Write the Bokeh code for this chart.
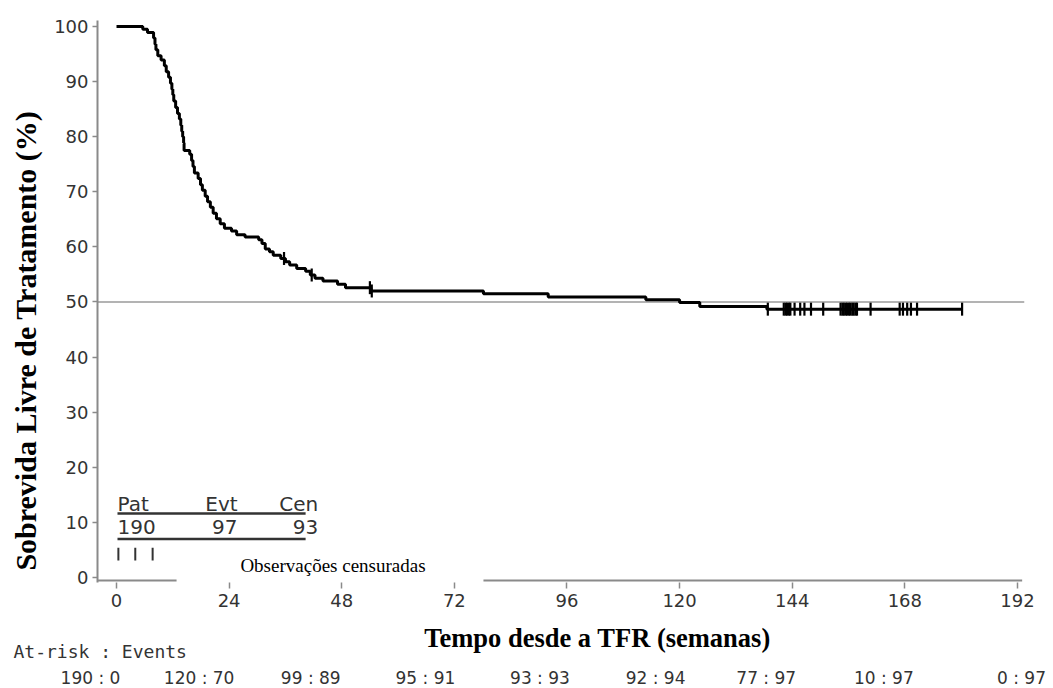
import numpy as np
from bokeh.plotting import figure
from bokeh.models import Range1d, Span, FixedTicker, ColumnDataSource
from bokeh.layouts import column, row
from bokeh.embed import file_html
from bokeh.resources import INLINE
from bokeh.core.properties import value

# ---------------- data ----------------
km_weeks = [0, 5.6, 6.6, 7.9, 8.2, 8.4, 8.8, 9.5, 10.2, 10.6,
            11.1, 11.5, 11.8, 12.0, 12.2, 12.6, 13.0, 13.4, 13.7, 13.9,
            14.1, 14.3, 14.4, 15.6, 16.0, 16.3, 16.6, 17.4, 17.9, 18.3,
            18.9, 19.4, 20.0, 20.6, 21.3, 22.1, 23.0, 24.5, 25.6, 27.4,
            30.3, 31.0, 31.7, 32.6, 33.4, 35.0, 36.0, 36.9, 38.4, 40.3,
            41.3, 42.3, 44.0, 47.1, 48.8, 54.2, 78.2, 92.0, 112.8, 120.0,
            124.3, 138.6]
km_surv = [100, 99.5, 98.9, 97.9, 96.8, 95.8, 94.7, 93.9, 92.9, 91.8,
           90.8, 89.7, 88.6, 87.6, 86.5, 85.3, 84.2, 83.2, 82.1, 81.0,
           80.0, 78.9, 77.5, 76.8, 75.7, 74.6, 73.4, 72.4, 71.3, 70.3,
           69.2, 68.2, 67.2, 66.1, 65.1, 64.2, 63.4, 62.9, 62.2, 61.8,
           61.3, 60.6, 59.6, 59.1, 58.5, 57.9, 57.3, 56.7, 56.1, 55.6,
           54.9, 54.3, 53.8, 53.2, 52.6, 52.0, 51.5, 50.9, 50.4, 49.9,
           49.2, 48.7]
censor_weeks = [35.7, 41.6, 54.0, 54.4,
                138.8, 142.2, 142.6, 142.9, 143.3, 143.6, 144.5, 145.7, 146.6,
                148.0, 150.6, 154.3, 154.7, 155.0, 155.4, 155.7, 156.1, 156.4,
                156.8, 157.1, 157.5, 157.8, 160.7, 166.9, 167.6, 168.5, 169.3,
                170.6, 180.2]
x_ticks = [0, 24, 48, 72, 96, 120, 144, 168, 192]
y_ticks = [0, 10, 20, 30, 40, 50, 60, 70, 80, 90, 100]
at_risk = [190, 120, 99, 95, 93, 92, 77, 10, 0]
events = [0, 70, 89, 91, 93, 94, 97, 97, 97]
summary_header = ["Pat", "Evt", "Cen"]
summary_values = [190, 97, 93]
reference_level = 50

y_title = "Sobrevida Livre de Tratamento (%)"
x_title = "Tempo desde a TFR (semanas)"
risk_title = "At-risk : Events"
censor_label = "Observações censuradas"

# ---------------- layout constants ----------------
X0, X1 = -4.05, 193.5
Y0, Y1 = -0.91, 101.09
LEFT_W = 50
MAIN_W, MAIN_H = 1003, 618
MB_L, MB_R, MB_T, MB_B = 47, 29, 20, 36
FRAME_W = MAIN_W - MB_L - MB_R
ppw = FRAME_W / (X1 - X0)

AX_COL = "#8a8a8a"
TXT_COL = "#333333"

# ---------------- left title panel ----------------
pl = figure(width=LEFT_W, height=MAIN_H, x_range=Range1d(0, LEFT_W),
            y_range=Range1d(0, MAIN_H), toolbar_location=None,
            output_backend="svg", x_axis_location=None, y_axis_location=None,
            min_border=0)
pl.grid.visible = False
pl.outline_line_color = None
pl.text(x=[25], y=[266], text=[y_title], angle=np.pi / 2,
        text_align="center", text_baseline="middle",
        text_font=value("Liberation Serif"), text_font_style="bold",
        text_font_size=value("30px"), text_color="black")

# ---------------- main plot ----------------
p = figure(width=MAIN_W, height=MAIN_H, x_range=Range1d(X0, X1),
           y_range=Range1d(Y0, Y1), toolbar_location=None,
           output_backend="svg", min_border_left=MB_L, min_border_right=MB_R,
           min_border_top=MB_T, min_border_bottom=MB_B)
p.grid.visible = False
p.outline_line_color = None
p.xaxis.ticker = FixedTicker(ticks=x_ticks)
p.yaxis.ticker = FixedTicker(ticks=y_ticks)
p.xaxis.axis_line_color = None
p.yaxis.axis_line_color = AX_COL
p.yaxis.axis_line_width = 2
p.axis.major_tick_line_color = AX_COL
p.axis.major_tick_line_width = 1.5
p.axis.major_tick_in = 0
p.xaxis.major_tick_out = 6
p.yaxis.major_tick_out = 5
p.axis.minor_tick_line_color = None
p.axis.major_label_text_font = "DejaVu Sans"
p.axis.major_label_text_font_size = "18px"
p.axis.major_label_text_color = TXT_COL
p.xaxis.major_label_standoff = 5
p.yaxis.major_label_standoff = 4

p.add_layout(Span(location=reference_level, dimension="width",
                  line_color="#9a9a9a", line_width=1.5, level="underlay"))

# bottom axis line (drawn as a glyph so the white label patch can hide part of it)
p.line(x=[X0, 193.0], y=[-0.54, -0.54], line_color=AX_COL, line_width=2)

# KM curve
xs = km_weeks + [censor_weeks[-1]]
ys = km_surv + [km_surv[-1]]
p.step(x=xs, y=ys, mode="after", line_color="black", line_width=3)

# censor marks
idx = np.searchsorted(np.array(km_weeks), np.array(censor_weeks), side="right") - 1
cy = np.array(km_surv)[idx]
p.scatter(x=censor_weeks, y=cy, marker="dash", angle=np.pi / 2, size=13,
          line_color="black", line_width=2.2)

# white patch over legend region
p.quad(left=[12.8], right=[78.2], bottom=[Y0], top=[6.9],
       fill_color="white", line_color=None)

# summary legend
FONT_L = value("DejaVu Sans")
p.text(x=[0.21], y=[13.4], text=[summary_header[0]], text_align="left",
       text_baseline="middle", text_font=FONT_L,
       text_font_size=value("20px"), text_color=TXT_COL)
p.text(x=[25.8, 43.0], y=[13.4, 13.4], text=summary_header[1:], text_align="right",
       text_baseline="middle", text_font=FONT_L,
       text_font_size=value("20px"), text_color=TXT_COL)
p.text(x=[0.21], y=[9.2], text=[str(summary_values[0])], text_align="left",
       text_baseline="middle", text_font=FONT_L,
       text_font_size=value("20px"), text_color=TXT_COL)
p.text(x=[25.8, 43.0], y=[9.2, 9.2], text=[str(v) for v in summary_values[1:]],
       text_align="right", text_baseline="middle", text_font=FONT_L,
       text_font_size=value("20px"), text_color=TXT_COL)
p.segment(x0=[0.21, 0.21], y0=[11.6, 7.0], x1=[40.3, 40.3], y1=[11.6, 7.0],
          line_color="#333333", line_width=2.5)
p.segment(x0=[0.4, 4.0, 7.7], y0=[3.1] * 3, x1=[0.4, 4.0, 7.7], y1=[5.4] * 3,
          line_color="#333333", line_width=2)
p.text(x=[26.4], y=[2.2], text=[censor_label], text_align="left",
       text_baseline="middle", text_font=value("Liberation Serif"),
       text_font_size=value("19px"), text_color="black")

# ---------------- bottom panel: x title + at-risk table ----------------
BOT_H = 70
bx0 = X0 - (LEFT_W + MB_L) / ppw
bx1 = X1 + MB_R / ppw
pb = figure(width=LEFT_W + MAIN_W, height=BOT_H, x_range=Range1d(bx0, bx1),
            y_range=Range1d(BOT_H, 0), toolbar_location=None,
            output_backend="svg", x_axis_location=None, y_axis_location=None,
            min_border=0)
pb.grid.visible = False
pb.outline_line_color = None
pb.text(x=[102.5], y=[19], text=[x_title], text_align="center",
        text_baseline="middle", text_font=value("Liberation Serif"),
        text_font_style="bold", text_font_size=value("26.5px"), text_color="black")
pb.text(x=[bx0], y=[33], text=[risk_title], x_offset=13, text_align="left",
        text_baseline="middle", text_font=value("DejaVu Sans Mono"),
        text_font_size=value("18px"), text_color=TXT_COL)
risk_src = ColumnDataSource(dict(
    x=x_ticks,
    y=[59] * len(x_ticks),
    t=[f"{a} : {e}" for a, e in zip(at_risk, events)],
    off=[-26, -30, -31, -29, -27, -24, -26, -21, 4],
))
pb.text(x="x", y="y", text="t", x_offset="off", source=risk_src,
        text_align="center", text_baseline="middle",
        text_font=value("DejaVu Sans"), text_font_size=value("17px"),
        text_color=TXT_COL)

layout = column(row(pl, p), pb)
open("out.html", "w").write(file_html(layout, INLINE))
